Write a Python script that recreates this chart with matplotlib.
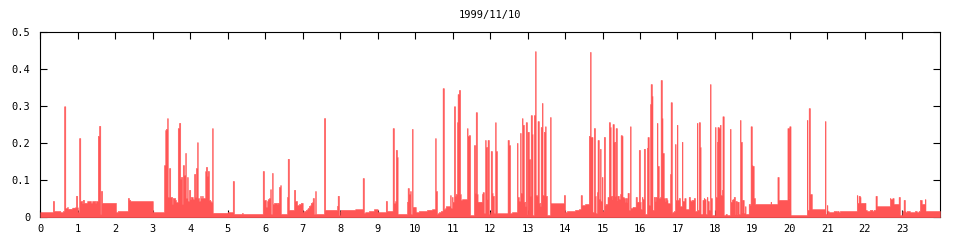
import numpy as np
import matplotlib
matplotlib.use("Agg")
from matplotlib import pyplot as plt

# Sample start times (minutes after midnight) and values, in 6 hour blocks
min_00_06 = [0, 20, 22, 32, 36, 38, 40, 43, 44, 51, 56, 57, 59, 60, 62, 64, 67, 68, 70, 75,
             81, 83, 88, 89, 92, 94, 96, 97, 99, 121, 124, 140, 142, 144, 180, 198, 200, 201,
             203, 204, 206, 208, 211, 212, 216, 217, 220, 222, 224, 225, 227, 228, 230, 232,
             233, 235, 236, 238, 240, 241, 244, 246, 248, 249, 251, 252, 254, 256, 257, 259,
             260, 264, 265, 267, 268, 270, 272, 273, 275, 276, 300, 308, 310, 323, 324, 356, 358]
val_00_06 = [.014, .044, .017, .014, .017, .30, .025, .028, .023, .026, .028, .058, .027, .014,
             .214, .044, .038, .047, .039, .044, .039, .044, .039, .044, .22, .247, .009, .071,
             .039, .014, .017, .052, .047, .044, .014, .141, .236, .239, .268, .055, .133, .055,
             .036, .052, .047, .041, .241, .255, .104, .109, .036, .141, .114, .174, .052, .109,
             .044, .074, .049, .055, .049, .117, .055, .133, .203, .052, .044, .058, .052, .058,
             .052, .125, .136, .112, .125, .047, .044, .041, .241, .012, .014, .098, .009, .012,
             .009, .125, .047]

min_06_12 = [361, 363, 364, 366, 368, 369, 371, 372, 374, 379, 380, 382, 384, 385, 395, 396,
             398, 406, 408, 411, 414, 417, 420, 422, 425, 427, 428, 430, 432, 433, 435, 436,
             438, 440, 441, 454, 456, 475, 476, 478, 480, 481, 504, 516, 518, 520, 526, 534,
             540, 553, 555, 564, 566, 568, 569, 571, 572, 587, 588, 590, 592, 593, 595, 596,
             601, 606, 619, 627, 632, 633, 635, 636, 638, 641, 644, 646, 648, 649, 656, 657,
             659, 660, 662, 664, 665, 667, 668, 670, 672, 673, 675, 683, 684, 686, 688, 694,
             696, 697, 699, 700, 707, 708, 710, 712, 713, 715, 716, 718]
val_06_12 = [.028, .044, .049, .052, .076, .009, .12, .036, .039, .036, .039, .082, .087, .009,
             .055, .158, .020, .074, .044, .033, .036, .039, .014, .017, .020, .022, .025, .031,
             .033, .039, .041, .052, .009, .071, .009, .268, .020, .031, .058, .006, .017, .020,
             .022, .106, .012, .014, .017, .022, .014, .044, .017, .241, .038, .044, .182, .163,
             .009, .042, .079, .063, .071, .009, .239, .028, .014, .017, .020, .022, .214, .071,
             .009, .011, .014, .017, .349, .022, .025, .030, .060, .025, .055, .042, .30, .058,
             .063, .257, .333, .344, .063, .047, .049, .241, .22, .222, .006, .195, .066, .284,
             .063, .042, .063, .068, .011, .209, .19, .049, .209, .009]

min_12_18 = [720, 721, 723, 724, 726, 728, 729, 731, 748, 750, 752, 755, 763, 764, 766, 768,
             769, 771, 772, 774, 776, 777, 779, 780, 782, 784, 785, 787, 788, 790, 792, 793,
             795, 796, 798, 800, 801, 803, 804, 806, 808, 809, 811, 816, 817, 838, 840, 843,
             856, 862, 865, 867, 872, 878, 880, 881, 884, 886, 888, 889, 891, 892, 894, 896,
             897, 899, 900, 902, 904, 905, 908, 910, 912, 913, 915, 916, 918, 920, 921, 923,
             924, 926, 928, 929, 931, 932, 934, 936, 937, 939, 940, 942, 944, 945, 948, 953,
             955, 958, 960, 961, 963, 964, 966, 968, 971, 972, 974, 976, 977, 979, 980, 982,
             984, 985, 987, 988, 990, 992, 993, 995, 996, 998, 1000, 1001, 1003, 1004, 1008,
             1009, 1011, 1012, 1014, 1016, 1017, 1019, 1020, 1022, 1024, 1027, 1028, 1031,
             1033, 1038, 1040, 1041, 1043, 1046, 1048, 1051, 1052, 1054, 1056, 1057, 1060,
             1062, 1063, 1065, 1067, 1068, 1070, 1072, 1073, 1075]
val_12_18 = [.014, .179, .066, .058, .011, .257, .179, .011, .209, .195, .011, .014, .201, .055,
             .044, .228, .066, .268, .25, .042, .03, .257, .009, .231, .157, .058, .276, .225,
             .006, .276, .449, .06, .058, .26, .039, .03, .244, .309, .06, .231, .246, .058,
             .006, .271, .038, .06, .014, .017, .02, .022, .06, .033, .036, .22, .447, .217,
             .014, .241, .058, .011, .068, .209, .049, .185, .044, .109, .017, .217, .033, .036,
             .055, .257, .244, .058, .049, .252, .204, .058, .241, .047, .058, .049, .063, .222,
             .22, .055, .052, .042, .052, .042, .066, .02, .246, .025, .028, .055, .042, .182,
             .042, .022, .055, .049, .185, .009, .188, .217, .033, .306, .36, .328, .02, .055,
             .044, .055, .255, .139, .052, .055, .371, .268, .174, .052, .044, .052, .047, .038,
             .117, .311, .011, .014, .017, .198, .047, .25, .047, .052, .03, .204, .044, .052,
             .022, .055, .047, .044, .047, .052, .017, .255, .02, .257, .19, .009, .047, .052,
             .049, .009, .055, .044, .02, .36, .052, .006]

min_18_24 = [1080, 1081, 1083, 1084, 1086, 1088, 1089, 1091, 1092, 1094, 1097, 1099, 1104,
             1105, 1107, 1108, 1110, 1112, 1113, 1115, 1116, 1118, 1120, 1121, 1123, 1124,
             1126, 1128, 1129, 1134, 1136, 1137, 1139, 1140, 1142, 1144, 1169, 1170, 1180,
             1182, 1196, 1198, 1199, 1201, 1227, 1228, 1230, 1232, 1235, 1256, 1257, 1259,
             1260, 1262, 1270, 1275, 1276, 1278, 1280, 1307, 1308, 1310, 1312, 1313, 1321,
             1323, 1328, 1332, 1334, 1337, 1339, 1360, 1361, 1364, 1366, 1374, 1376, 1380,
             1382, 1384, 1385, 1387, 1392, 1400, 1403, 1406, 1408, 1411, 1416, 1417]
val_18_24 = [.244, .055, .204, .244, .241, .25, .06, .074, .273, .006, .009, .006, .239, .042,
             .047, .049, .055, .009, .044, .009, .042, .009, .263, .204, .014, .047, .011, .03,
             .009, .036, .033, .246, .141, .139, .052, .036, .042, .036, .109, .047, .241, .052,
             .246, .006, .263, .02, .295, .063, .022, .26, .009, .033, .017, .014, .017, .014,
             .017, .014, .017, .06, .039, .058, .055, .039, .02, .017, .02, .017, .02, .058,
             .030, .052, .049, .052, .036, .055, .006, .017, .047, .017, .014, .017, .014, .017,
             .014, .017, .047, .036, .049, .017]

title = "1999/11/10"
xticks = list(range(24))
yticks = [0, 0.1, 0.2, 0.3, 0.4, 0.5]

minutes = np.array(min_00_06 + min_06_12 + min_12_18 + min_18_24 + [1440]) / 60.0
values = np.array(val_00_06 + val_06_12 + val_12_18 + val_18_24 + [val_18_24[-1]])

fig = plt.figure(figsize=(9.6, 2.4), dpi=100)
ax = fig.add_axes([0.042, 0.0946, 0.937, 0.7708])

# thin edge in the fill colour keeps the one-sample spikes at least a pixel wide
ax.fill_between(minutes, values, step="post", facecolor="#ff5555",
                edgecolor="#ff5555", lw=0.4, antialiased=False, zorder=3)

ax.set_xlim(0, 24)
ax.set_ylim(0, 0.5)
ax.set_xticks(xticks)
ax.set_xticklabels([str(x) for x in xticks])
ax.set_yticks(yticks)
ax.set_yticklabels(["0", "0.1", "0.2", "0.3", "0.4", "0.5"])

font = "DejaVu Sans Mono"
for lab in ax.get_xticklabels() + ax.get_yticklabels():
    lab.set_fontfamily(font)
    lab.set_fontsize(7.5)

ax.tick_params(direction="in", length=5, width=0.8, top=True, right=True)
ax.tick_params(axis="y", pad=7)
ax.tick_params(axis="x", pad=5)
for s in ax.spines.values():
    s.set_linewidth(0.8)

ax.set_title(title, fontfamily=font, fontsize=7.5, pad=10)

fig.savefig("out.png", dpi=100)
